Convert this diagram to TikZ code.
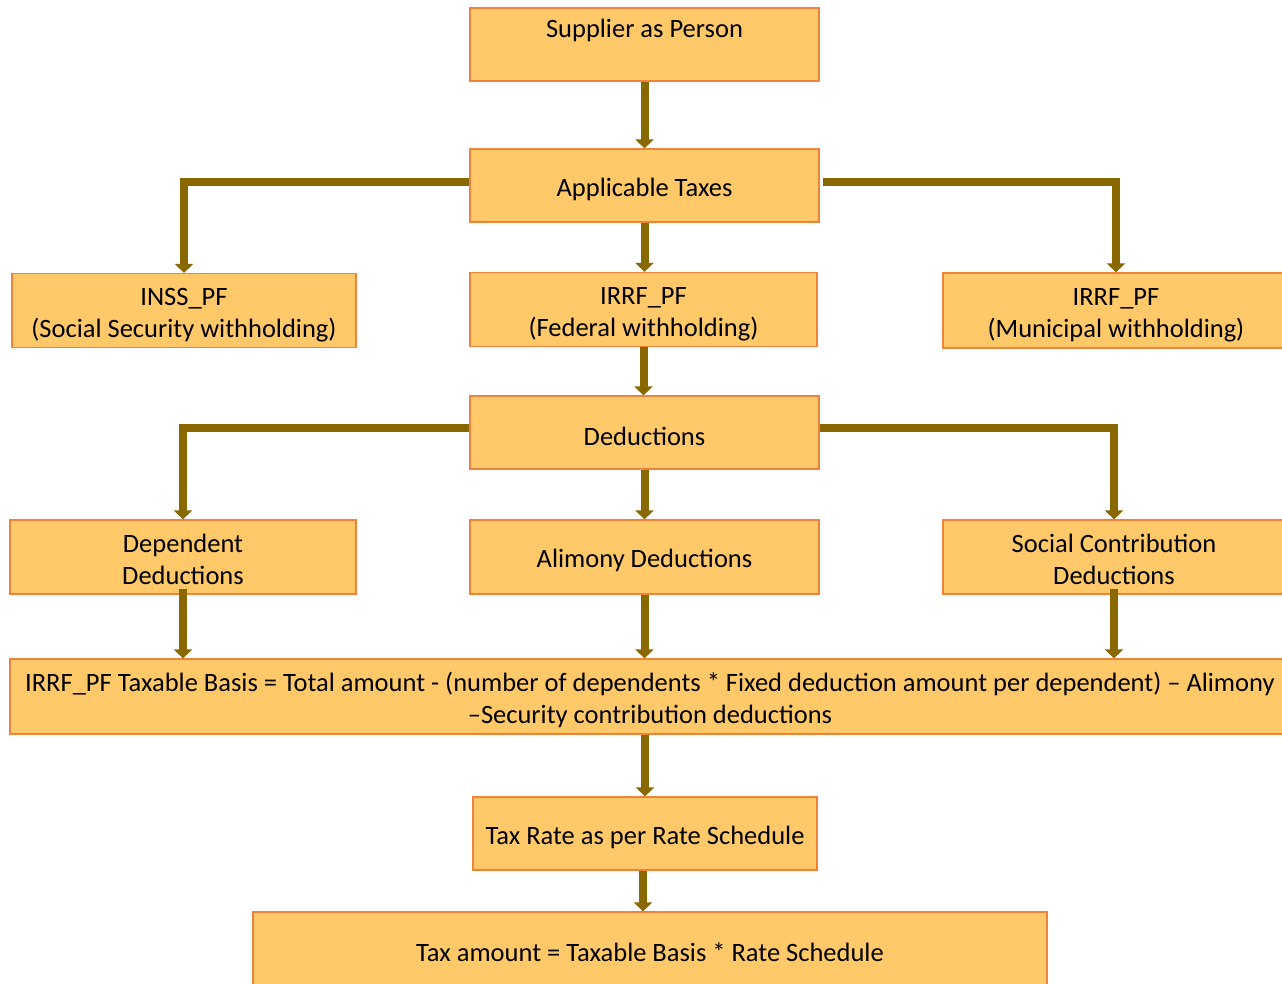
\documentclass[tikz,border=0pt]{standalone}
\usepackage{fontspec}
\setmainfont{Carlito}
\usetikzlibrary{arrows.meta}
\definecolor{boxfill}{RGB}{255,200,105}
\definecolor{boxline}{RGB}{240,130,60}
\definecolor{flow}{RGB}{137,104,0}
% two centred lines with fixed headroom and depth
\newcommand\twolines[2]{\rule{0pt}{29pt}#1\\#2\rule[-7pt]{0pt}{7pt}}
\begin{document}
\begin{tikzpicture}[x=1pt,y=-1pt,
  box/.style={draw=boxline, fill=boxfill, line width=1.2pt, rectangle,
    inner sep=0pt, align=center, font=\fontsize{26.5}{32}\selectfont},
  onebox/.style={box, execute at begin node={\rule{0pt}{26pt}}},
  arr/.style={draw=flow, line width=8pt,
    -{Triangle[width=18pt,length=9pt]}}]
\useasboundingbox (0,0) rectangle (1282,983);

% boxes
\node[box, minimum width=349pt, minimum height=73pt] (sup) at (644.5,44.5) {Supplier as Person\\\mbox{}};
\node[onebox, minimum width=349pt, minimum height=73pt] (app) at (644.5,185.5) {Applicable Taxes};
\node[box, minimum width=344pt, minimum height=74pt] (inss) at (184,310.5) {\twolines{INSS\_PF}{(Social Security withholding)}};
\node[box, minimum width=347pt, minimum height=74pt] (fed) at (643.5,309.5) {\twolines{IRRF\_PF}{(Federal withholding)}};
\node[box, minimum width=346pt, minimum height=75pt] (muni) at (1116,310.5) {\twolines{IRRF\_PF}{(Municipal withholding)}};
\node[onebox, minimum width=349pt, minimum height=73pt] (ded) at (644.5,432.5) {Deductions};
\node[box, minimum width=346pt, minimum height=74pt] (dep) at (183,557) {\twolines{Dependent}{Deductions}};
\node[onebox, minimum width=349pt, minimum height=74pt] (ali) at (644.5,557) {Alimony Deductions};
\node[box, minimum width=342pt, minimum height=74pt] (soc) at (1114,557) {\twolines{Social Contribution}{Deductions}};
\node[box, minimum width=1280pt, minimum height=75pt] (basis) at (650,696.5) {\twolines{IRRF\_PF Taxable Basis = Total amount - (number of dependents * Fixed deduction amount per dependent) – Alimony}{–Security contribution deductions}};
\node[onebox, minimum width=344pt, minimum height=73pt] (rate) at (645,833.5) {Tax Rate as per Rate Schedule};
\node[onebox, minimum width=794pt, minimum height=74pt] (amt) at (650,949) {Tax amount = Taxable Basis * Rate Schedule};

% connectors
\draw[arr] (sup.south) -- (app.north);
\draw[arr] ([yshift=3.5pt]app.west) -| (inss.north);
\draw[arr] ([yshift=3.5pt,xshift=3pt]app.east) -| (muni.north);
\draw[arr] (app.south) -- (app.south |- fed.north);
\draw[arr] (fed.south) -- (fed.south |- ded.north);
\draw[arr] ([yshift=4.5pt]ded.west) -| (dep.north);
\draw[arr] ([yshift=4.5pt]ded.east) -| (soc.north);
\draw[arr] (ded.south) -- (ali.north);
\draw[arr] ([yshift=6pt]dep.south) -- (dep.south |- basis.north);
\draw[arr] (ali.south) -- (ali.south |- basis.north);
\draw[arr] ([yshift=6pt]soc.south) -- (soc.south |- basis.north);
\draw[arr] (basis.south -| rate.north) -- (rate.north);
\draw[arr] ([xshift=-2pt]rate.south) -- ([xshift=-2pt]rate.south |- amt.north);
\end{tikzpicture}
\end{document}
